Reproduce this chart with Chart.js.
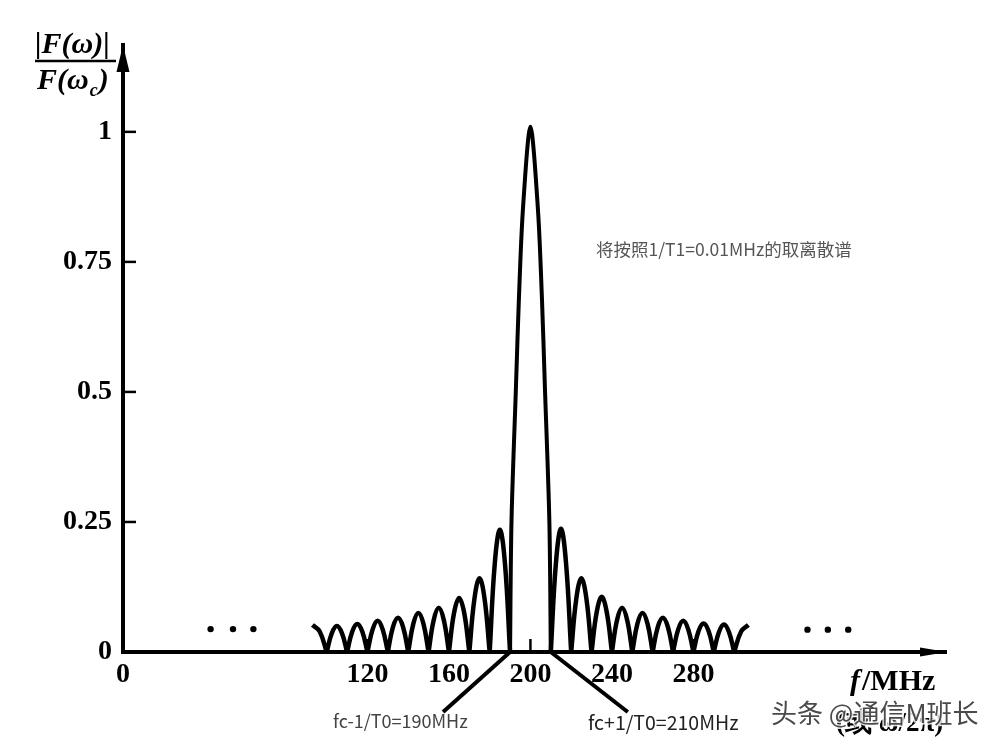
<!DOCTYPE html>
<html>
<head>
<meta charset="utf-8">
<script src="https://cdn.jsdelivr.net/npm/chart.js@4.4.0/dist/chart.umd.min.js"></script>
<style>
  html, body { margin: 0; padding: 0; background: #fff; }
  #wrap { width: 1004px; height: 745px; position: relative; }
</style>
</head>
<body>
<div id="wrap"><canvas id="spectrum"></canvas></div>
<script>
// axis ticks
const xTicks = [0, 120, 160, 200, 240, 280];   // MHz
const yTicks = [0, 0.25, 0.5, 0.75, 1];         // |F(w)| / F(wc)

// left side lobes: zero, shoulder, peak, shoulder, zero ... (MHz / magnitude)
const leftFreq = [93, 96.5, 100,
    102.5, 105, 107.5, 110,
    112.5, 115, 117.5, 120,
    122.5, 125, 127.5, 130,
    132.5, 135, 137.5, 140,
    142.5, 145, 147.5, 150,
    152.5, 155, 157.5, 160,
    162.5, 165, 167.5, 170,
    172.5, 175, 177.5, 180,
    182.5, 185, 187.5, 190];
const leftAmp = [0.052, 0.04, 0,
    0.036, 0.05, 0.036, 0,
    0.039, 0.054, 0.039, 0,
    0.043, 0.06, 0.043, 0,
    0.048, 0.066, 0.048, 0,
    0.054, 0.075, 0.054, 0,
    0.061, 0.085, 0.061, 0,
    0.075, 0.104, 0.075, 0,
    0.102, 0.142, 0.102, 0,
    0.17, 0.235, 0.17, 0];

// main lobe 190..210 MHz
const mainFreq = [190, 190.7, 192.9, 194.35, 196.3, 200, 203.7, 205.65, 207.1, 209.3, 210];
const mainAmp  = [0, 0.25, 0.51, 0.68, 0.85, 1.01, 0.85, 0.68, 0.51, 0.25, 0];

// right side lobes
const rightFreq = [210,
    212.5, 215, 217.5, 220,
    222.5, 225, 227.5, 230,
    232.5, 235, 237.5, 240,
    242.5, 245, 247.5, 250,
    252.5, 255, 257.5, 260,
    262.5, 265, 267.5, 270,
    272.5, 275, 277.5, 280,
    282.5, 285, 287.5, 290,
    292.5, 295, 297.5, 300,
    303.5, 307];
const rightAmp = [0,
    0.17, 0.237, 0.17, 0,
    0.102, 0.142, 0.102, 0,
    0.076, 0.106, 0.076, 0,
    0.061, 0.085, 0.061, 0,
    0.054, 0.075, 0.054, 0,
    0.048, 0.066, 0.048, 0,
    0.043, 0.06, 0.043, 0,
    0.04, 0.055, 0.04, 0,
    0.038, 0.053, 0.038, 0,
    0.04, 0.052];

// the "..." marks on both sides
const dotsFreq = [43, 54, 64, 336, 346, 356];
const dotsAmp  = [0.044, 0.044, 0.044, 0.043, 0.043, 0.043];

const SERIF = '"Liberation Serif", "Times New Roman", serif';
const SANS = '"Noto Sans CJK SC", "Noto Sans", sans-serif';

// a zero listed twice makes the spline leave a sharp cusp there
function toPoints(freq, amp, sharpZeros) {
    const pts = [];
    freq.forEach((f, i) => {
        pts.push({ x: f, y: amp[i] });
        if (sharpZeros && amp[i] === 0 && i > 0 && i < freq.length - 1) {
            pts.push({ x: f, y: amp[i] });
        }
    });
    return pts;
}

function line(ctx, x1, y1, x2, y2) {
    ctx.beginPath();
    ctx.moveTo(x1, y1);
    ctx.lineTo(x2, y2);
    ctx.stroke();
}

const decorPlugin = {
    id: 'decor',
    afterDraw(chart) {
        const { ctx, chartArea: a, scales: { x, y } } = chart;
        ctx.save();
        ctx.fillStyle = '#000';
        ctx.strokeStyle = '#000';
        ctx.lineCap = 'butt';

        // inward tick marks
        ctx.lineWidth = 2.5;
        yTicks.slice(1).forEach(v => {
            const py = y.getPixelForValue(v);
            line(ctx, a.left, py, a.left + 13, py);
        });
        xTicks.slice(1).forEach(v => {
            const px = x.getPixelForValue(v);
            line(ctx, px, a.bottom, px, a.bottom - 13);
        });

        // arrow heads
        ctx.beginPath();
        ctx.moveTo(a.left, a.top);
        ctx.lineTo(a.left - 6.5, a.top + 27);
        ctx.lineTo(a.left + 6.5, a.top + 27);
        ctx.closePath();
        ctx.fill();
        ctx.beginPath();
        ctx.moveTo(a.right + 1, a.bottom);
        ctx.lineTo(a.right - 26, a.bottom - 4.5);
        ctx.lineTo(a.right - 26, a.bottom + 4.5);
        ctx.closePath();
        ctx.fill();

        // leader lines to 190 / 210 MHz
        ctx.lineWidth = 4;
        const p190 = x.getPixelForValue(190), p210 = x.getPixelForValue(210), p0 = y.getPixelForValue(0);
        line(ctx, p190, p0, p190 - 67, p0 + 60);
        line(ctx, p210, p0, p210 + 77, p0 + 60);

        // y axis title as a fraction
        ctx.textBaseline = 'alphabetic';
        ctx.textAlign = 'left';
        ctx.font = 'italic bold 30px ' + SERIF;
        ctx.fillText('|F(ω)|', 35, 53);
        ctx.lineWidth = 2.5;
        line(ctx, 35, 61, 116, 61);
        ctx.fillText('F(ω', 37, 89);
        let w = ctx.measureText('F(ω').width;
        ctx.font = 'italic bold 18px ' + SERIF;
        ctx.fillText('c', 37 + w + 1, 96);
        const wc = ctx.measureText('c').width;
        ctx.font = 'italic bold 30px ' + SERIF;
        ctx.fillText(')', 37 + w + wc + 2, 89);

        // x axis title
        ctx.font = 'italic bold 30px ' + SERIF;
        ctx.fillText('f', 850, 690);
        w = ctx.measureText('f').width;
        ctx.font = 'bold 30px ' + SERIF;
        ctx.fillText('/MHz', 850 + w + 2, 690);
        ctx.font = 'bold 27px ' + SERIF;
        ctx.fillText('(或 ω/2π)', 836, 731);

        // watermark
        ctx.font = '26px ' + SANS;
        ctx.lineWidth = 3;
        ctx.strokeStyle = 'rgba(255,255,255,0.85)';
        ctx.strokeText('头条 @通信M班长', 771, 723);
        ctx.fillStyle = '#4a4a4a';
        ctx.fillText('头条 @通信M班长', 771, 723);

        // notes
        ctx.fillStyle = '#555';
        ctx.font = '17.5px ' + SANS;
        ctx.fillText('将按照1/T1=0.01MHz的取离散谱', 596, 256);
        ctx.fillStyle = '#444';
        ctx.font = '18px ' + SANS;
        ctx.fillText('fc-1/T0=190MHz', 333, 728);
        ctx.fillStyle = '#222';
        ctx.font = '19.5px ' + SANS;
        ctx.fillText('fc+1/T0=210MHz', 588, 730);

        ctx.restore();
    }
};

const lobeStyle = {
    borderColor: '#000',
    borderWidth: 4.5,
    pointRadius: 0,
    tension: 0.4,
    fill: false
};

new Chart(document.getElementById('spectrum'), {
    type: 'line',
    data: {
        datasets: [
            Object.assign({ data: toPoints(leftFreq, leftAmp, true) }, lobeStyle),
            Object.assign({ data: toPoints(mainFreq, mainAmp, false) }, lobeStyle, { borderWidth: 4, tension: 0.3 }),
            Object.assign({ data: toPoints(rightFreq, rightAmp, true) }, lobeStyle),
            {
                data: dotsFreq.map((f, i) => ({ x: f, y: dotsAmp[i] })),
                showLine: false,
                pointRadius: 3.2,
                pointBackgroundColor: '#000',
                pointBorderWidth: 0
            }
        ]
    },
    options: {
        responsive: true,
        maintainAspectRatio: false,
        animation: false,
        events: [],
        layout: { padding: { top: 45, right: 58, left: 0, bottom: 0 } },
        plugins: {
            legend: { display: false },
            tooltip: { enabled: false }
        },
        scales: {
            x: {
                type: 'linear',
                min: 0,
                max: 404,
                afterBuildTicks: s => { s.ticks = xTicks.map(v => ({ value: v })); },
                afterFit: s => { s.height = 93; },
                grid: { display: false, drawTicks: false },
                border: { display: true, color: '#000', width: 4 },
                ticks: {
                    color: '#000',
                    padding: 6,
                    maxRotation: 0,
                    autoSkip: false,
                    font: { family: SERIF, size: 28, weight: 'bold' },
                    callback: v => String(v)
                }
            },
            y: {
                min: 0,
                max: 1.167,
                afterBuildTicks: s => { s.ticks = yTicks.map(v => ({ value: v })); },
                afterFit: s => { s.width = 123; },
                grid: { display: false, drawTicks: false },
                border: { display: true, color: '#000', width: 4 },
                ticks: {
                    color: '#000',
                    padding: 11,
                    font: { family: SERIF, size: 28, weight: 'bold' },
                    callback: v => String(v)
                }
            }
        }
    },
    plugins: [decorPlugin]
});
</script>
</body>
</html>
